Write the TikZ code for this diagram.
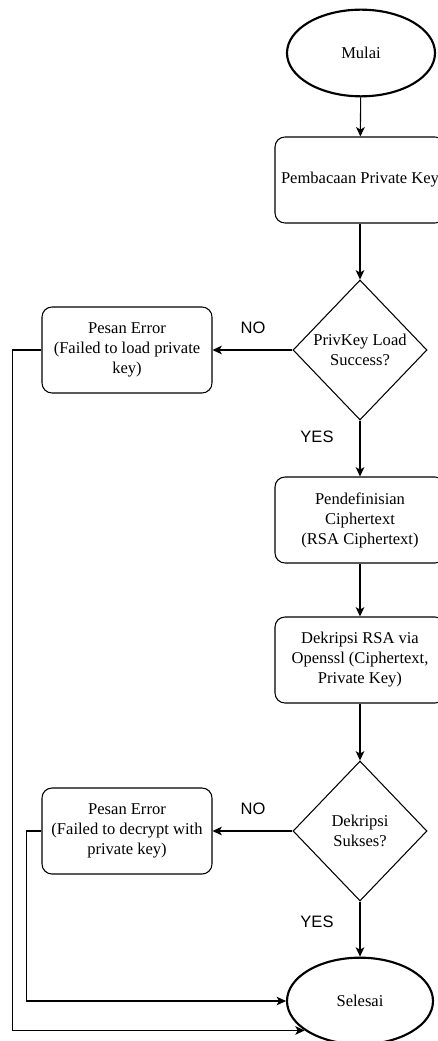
\documentclass[tikz,border=0pt]{standalone}
\usepackage{fontspec}
\setmainfont{Liberation Serif}
\newfontfamily\lblfont{Liberation Sans}
\usetikzlibrary{shapes,
	arrows.meta,
	calc}
\tikzstyle{term}=[draw, ellipse, line width=1.6pt, minimum width=111pt, minimum height=65pt, inner sep=0]
\tikzstyle{proc}=[draw, rounded corners=7.5pt, line width=0.8pt, minimum width=127.5pt,
		minimum height=64.5pt, align=center, inner sep=0]
\tikzstyle{choice}=[draw, diamond, line width=0.8pt, minimum width=100.5pt, minimum height=105pt,
		align=center, inner sep=0]
\tikzstyle{lbl}=[font=\lblfont\fontsize{12.4}{15}\selectfont]
\tikzstyle{flow}=[line width=0.8pt, -{Stealth[length=7pt, width=6.5pt, inset=1.8pt]}]

\begin{document}
\begin{tikzpicture}[x=0.75pt, y=-0.75pt, every node/.style={font=\fontsize{12.4}{15}\selectfont}]
                \useasboundingbox (0,0) rectangle (438,1041);
                % main column
                \node[term] (mulai) at (361,53) {Mulai};
                \node[proc] (baca) at (360,180) {Pembacaan Private Key};
                \node[choice] (cekkey) at (360,350) {PrivKey Load\\Success?};
                \node[proc] (defcipher) at (360,520) {Pendefinisian\\Ciphertext\\(RSA Ciphertext)};
                \node[proc] (dekrip) at (360,660) {Dekripsi RSA via\\Openssl (Ciphertext,\\Private Key)};
                \node[choice] (cekdek) at (360,831) {Dekripsi\\Sukses?};
                \node[term, minimum width=109.5pt] (selesai) at (360,1001) {Selesai};
                % error branches
                \node[proc] (err1) at (127,350) {Pesan Error\\(Failed to load private\\key)};
                \node[proc] (err2) at (127,831) {Pesan Error\\(Failed to decrypt with\\private key)};
                % labels
                \node[lbl] (no1) at (253,328) {NO};
                \node[lbl] (yes1) at (317,437) {YES};
                \node[lbl] (no2) at (253,809) {NO};
                \node[lbl] (yes2) at (317,922) {YES};
                % connectors
                \draw[flow] (mulai) -- (baca);
                \draw[flow] (baca) -- (cekkey);
                \draw[flow] (cekkey) -- (defcipher);
                \draw[flow] (defcipher) -- (dekrip);
                \draw[flow] (dekrip) -- (cekdek);
                \draw[flow] (cekdek) -- (selesai);
                \draw[flow] (cekkey.west) -- (err1.east);
                \draw[flow] (cekdek.west) -- (err2.east);
                \draw[flow] (err1.west) -- ++(-29,0) |- (selesai.208);
                \draw[flow] (err2.west) -- ++(-15,0) |- (selesai.west);
\end{tikzpicture}
\end{document}
